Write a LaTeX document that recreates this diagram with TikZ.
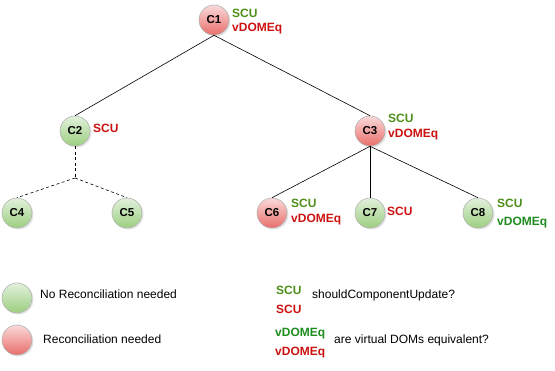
\documentclass[tikz,border=0pt]{standalone}
\usepackage{fontspec}
\setmainfont{Liberation Sans}
\usetikzlibrary{shadows}
\definecolor{gfillA}{HTML}{E2F0DC}
\definecolor{gfillB}{HTML}{9CCF80}
\definecolor{rfillA}{HTML}{FADADA}
\definecolor{rfillB}{HTML}{E96E6A}
\definecolor{olivegreen}{HTML}{4D8F1A}
\definecolor{deepgreen}{HTML}{1E8C1E}
\definecolor{labred}{HTML}{CC1111}
\begin{document}
\begin{tikzpicture}[x=1pt,y=-1pt,
  comp/.style={circle,minimum size=30pt,inner sep=0pt,draw=black!30,line width=0.6pt,
    font=\fontsize{11.5}{13}\selectfont\bfseries,drop shadow={shadow xshift=1.5pt,shadow yshift=-1.5pt,opacity=0.22}},
  okc/.style={comp,top color=gfillA,bottom color=gfillB},
  badc/.style={comp,top color=rfillA,bottom color=rfillB},
  lab/.style={anchor=base west,inner sep=0pt,font=\fontsize{12}{14}\selectfont\bfseries},
  gl/.style={lab,text=olivegreen},
  dgl/.style={lab,text=deepgreen},
  rl/.style={lab,text=labred},
  txt/.style={anchor=base west,inner sep=0pt,font=\fontsize{12}{14}\selectfont},
  edge/.style={black,line width=0.6pt},
  dedge/.style={black,line width=0.6pt,dash pattern=on 3pt off 2.5pt}]
\useasboundingbox (0,0) rectangle (555,371);
\node[badc] (c1) at (214,20) {C1};
\node[okc] (c2) at (75,131) {C2};
\node[badc] (c3) at (370,131) {C3};
\node[okc] (c4) at (17,213) {C4};
\node[okc] (c5) at (127,213) {C5};
\node[badc] (c6) at (272,213) {C6};
\node[okc] (c7) at (370,213) {C7};
\node[okc] (c8) at (478,213) {C8};
\coordinate (j) at (75,178);
\draw[edge] (c1.south) -- (c2.north);
\draw[edge] (c1.south) -- (c3.north);
\draw[edge] (c3.south) -- (c6.north);
\draw[edge] (c3.south) -- (c7.north);
\draw[edge] (c3.south) -- (c8.north);
\draw[dedge] (c2.south) -- (j);
\draw[dedge] (j) -- (c4.north);
\draw[dedge] (j) -- (c5.north);
% labels
\node[gl] (l1a) at (232,18) {SCU};
\node[rl] (l1b) at (232,32) {vDOMEq};
\node[rl] (l2a) at (93,133) {SCU};
\node[gl] (l3a) at (388,123) {SCU};
\node[rl] (l3b) at (388,138) {vDOMEq};
\node[gl] (l6a) at (291,208) {SCU};
\node[rl] (l6b) at (291,223) {vDOMEq};
\node[rl] (l7a) at (387,216) {SCU};
\node[gl] (l8a) at (497,208) {SCU};
\node[dgl] (l8b) at (497,226) {vDOMEq};
% legend
\node[okc] (lg1) at (17,298) {};
\node[txt] (lt1) at (40,299) {No Reconciliation needed};
\node[badc] (lg2) at (17,340) {};
\node[txt] (lt2) at (43,344) {Reconciliation needed};
\node[gl] (ls1) at (276,295) {SCU};
\node[rl] (ls2) at (276,314) {SCU};
\node[txt] (lt3) at (312,299) {shouldComponentUpdate?};
\node[dgl] (lv1) at (275,337) {vDOMEq};
\node[rl] (lv2) at (275,356) {vDOMEq};
\node[txt] (lt4) at (334,344) {are virtual DOMs equivalent?};
\end{tikzpicture}
\end{document}
